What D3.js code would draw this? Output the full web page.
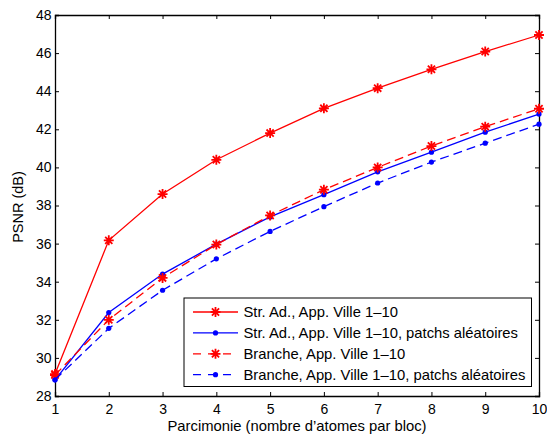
<!DOCTYPE html>
<html><head><meta charset="utf-8">
<script src="https://cdn.jsdelivr.net/npm/d3@7"></script>
<style>body{margin:0;background:#fff}svg{display:block;font-family:"Liberation Sans",Arial,sans-serif}</style>
</head><body><svg id="c" width="547" height="434"></svg>
<script>
const sparsity = [1,2,3,4,5,6,7,8,9,10];
const strAd = [29.15,36.17,38.6,40.4,41.8,43.1,44.16,45.15,46.08,46.95];
const strAdRandom = [28.85,32.38,34.4,35.97,37.4,38.57,39.77,40.8,41.85,42.8];
const branche = [29.1,32.0,34.2,35.95,37.48,38.83,40.0,41.12,42.14,43.08];
const brancheRandom = [28.85,31.55,33.55,35.2,36.64,37.94,39.18,40.28,41.27,42.27];
const xTicks = [1,2,3,4,5,6,7,8,9,10];
const yTicks = [28,30,32,34,36,38,40,42,44,46,48];
const legendLabels = ["Str. Ad., App. Ville 1\u201310","Str. Ad., App. Ville 1\u201310, patchs aléatoires","Branche, App. Ville 1\u201310","Branche, App. Ville 1\u201310, patchs aléatoires"];

const svg = d3.select("#c");
const L=55,R=539,T=15,B=396;
const x = d3.scaleLinear().domain([1,10]).range([L,R]);
const y = d3.scaleLinear().domain([28,48]).range([B,T]);

const series = [
  {vals:strAd,color:"#ff0000",dash:null,marker:"star"},
  {vals:strAdRandom,color:"#0000ff",dash:null,marker:"dot"},
  {vals:branche,color:"#ff0000",dash:"9,5",marker:"star"},
  {vals:brancheRandom,color:"#0000ff",dash:"9,5",marker:"dot"}
];

const fs = "14px";
const ax = svg.append("g").attr("transform",`translate(0,${B})`).call(d3.axisBottom(x).tickValues(xTicks).tickSize(-4).tickPadding(8).tickFormat(d3.format("d")));
const ax2 = svg.append("g").attr("transform",`translate(0,${T})`).call(d3.axisTop(x).tickValues(xTicks).tickSize(-4).tickFormat(""));
const ay = svg.append("g").attr("transform",`translate(${L},0)`).call(d3.axisLeft(y).tickValues(yTicks).tickSize(-4).tickPadding(3.5));
const ay2 = svg.append("g").attr("transform",`translate(${R},0)`).call(d3.axisRight(y).tickValues(yTicks).tickSize(-4).tickFormat(""));
[ax,ax2,ay,ay2].forEach(g=>{
  g.select(".domain").attr("stroke","#000").attr("stroke-width",1.3);
  g.selectAll(".tick line").attr("stroke","#000").attr("stroke-width",1);
  g.selectAll("text").attr("font-size",fs).attr("fill","#000").attr("font-family","Liberation Sans, Arial, sans-serif");
});

const line = d3.line().x((d,i)=>x(sparsity[i])).y(d=>y(d));
function star(g,cx,cy,color){
  const s=5;
  const p=`M${cx-s},${cy}L${cx+s},${cy}M${cx},${cy-s}L${cx},${cy+s}M${cx-s*0.72},${cy-s*0.72}L${cx+s*0.72},${cy+s*0.72}M${cx-s*0.72},${cy+s*0.72}L${cx+s*0.72},${cy-s*0.72}`;
  g.append("path").attr("d",p).attr("stroke",color).attr("stroke-width",1.8).attr("fill","none");
}
series.forEach(s=>{
  svg.append("path").datum(s.vals).attr("d",line).attr("fill","none").attr("stroke",s.color).attr("stroke-width",1.3).attr("stroke-dasharray",s.dash);
  const g=svg.append("g");
  s.vals.forEach((v,i)=>{
    if(s.marker==="star") star(g,x(sparsity[i]),y(v),s.color);
    else g.append("circle").attr("cx",x(sparsity[i])).attr("cy",y(v)).attr("r",2.6).attr("fill",s.color);
  });
});

const lg = svg.append("g");
lg.append("rect").attr("x",184).attr("y",298).attr("width",347.5).attr("height",88.5).attr("fill","#fff").attr("stroke","#000").attr("stroke-width",1);
series.forEach((s,i)=>{
  const yy = 312 + i*20.9;
  lg.append("line").attr("x1",193).attr("x2",238).attr("y1",yy).attr("y2",yy).attr("stroke",s.color).attr("stroke-width",1.3).attr("stroke-dasharray",s.dash?"8,7":null);
  if(s.marker==="star") star(lg,215.5,yy,s.color); else lg.append("circle").attr("cx",215.5).attr("cy",yy).attr("r",2.6).attr("fill",s.color);
  lg.append("text").attr("x",243.5).attr("y",yy).attr("dy","0.35em").attr("font-size","14.8px").text(legendLabels[i]);
});

svg.append("text").attr("x",297).attr("y",431).attr("text-anchor","middle").attr("font-size","14.8px").text("Parcimonie (nombre d\u2019atomes par bloc)");
svg.append("text").attr("transform",`translate(23,207) rotate(-90)`).attr("text-anchor","middle").attr("font-size","14.5px").text("PSNR (dB)");
</script></body></html>
